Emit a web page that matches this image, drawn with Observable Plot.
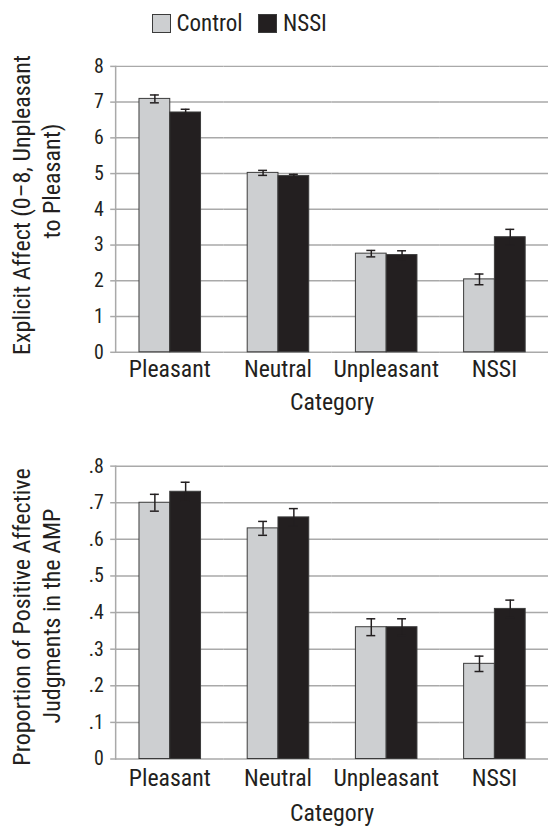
<!DOCTYPE html>
<html>
<head>
<meta charset="utf-8">
<script src="https://cdn.jsdelivr.net/npm/d3@7"></script>
<script src="https://cdn.jsdelivr.net/npm/@observablehq/plot@0.6"></script>
<style>
  html, body { margin: 0; padding: 0; background: #fff; overflow: hidden; }
  #page { position: relative; width: 548px; height: 827px; overflow: hidden;
          font-family: Roboto, sans-serif; font-stretch: 75%; color: #231f20; }
  #legend { position: relative; height: 50px; }
  .sw { position: absolute; width: 17px; height: 17px; top: 14px; border: 1px solid #3b3b3b; }
  .lt { position: absolute; top: 10px; font-size: 23px; line-height: normal; white-space: nowrap; }
  .yt { position: absolute; font-size: 24px; white-space: nowrap; line-height: normal;
        transform: translate(-50%, -50%) rotate(-90deg); }
  svg { display: block; font-stretch: 75%; }
  svg text { font-stretch: 75%; }
</style>
</head>
<body>
<div id="page">
  <div id="legend"></div>
  <div id="c1"></div>
  <div id="c2"></div>
</div>
<script>
const categories = ["Pleasant", "Neutral", "Unpleasant", "NSSI"];
const groups = ["Control", "NSSI"];
const groupColors = ["#cdcfd1", "#231f20"];

// Top panel: explicit affect (0–8)
const explicitControl = [7.09, 5.02, 2.76, 2.04];
const explicitControlErr = [0.11, 0.07, 0.09, 0.15];
const explicitNSSI = [6.71, 4.93, 2.72, 3.22];
const explicitNSSIErr = [0.09, 0.05, 0.12, 0.22];
const explicitTicks = [0, 1, 2, 3, 4, 5, 6, 7, 8];
const explicitTickLabels = ["0", "1", "2", "3", "4", "5", "6", "7", "8"];

// Bottom panel: proportion of positive AMP judgments
const ampControl = [0.70, 0.63, 0.36, 0.26];
const ampControlErr = [0.023, 0.019, 0.023, 0.021];
const ampNSSI = [0.73, 0.66, 0.36, 0.41];
const ampNSSIErr = [0.026, 0.024, 0.023, 0.024];
const ampTicks = [0, 0.1, 0.2, 0.3, 0.4, 0.5, 0.6, 0.7, 0.8];
const ampTickLabels = ["0", ".1", ".2", ".3", ".4", ".5", ".6", ".7", ".8"];

const FONT = 'Roboto, sans-serif';
const GRID = "#a9a9a9";
const INK = "#231f20";

function rowsOf(ctrl, ctrlErr, nssi, nssiErr) {
  const rows = [];
  categories.forEach((c, i) => {
    rows.push({category: c, group: "Control", value: ctrl[i], err: ctrlErr[i]});
    rows.push({category: c, group: "NSSI", value: nssi[i], err: nssiErr[i]});
  });
  return rows;
}

function chart({rows, ticks, labels, height, marginTop, marginBottom, labelOffset, tickPadding}) {
  const fmt = v => labels[ticks.findIndex(t => Math.abs(t - v) < 1e-9)];
  return Plot.plot({
    width: 552,
    height,
    marginLeft: 116,
    marginRight: 0,
    marginTop,
    marginBottom,
    style: {fontFamily: FONT, fontStretch: "75%", color: INK, background: "#fff", overflow: "visible"},
    fx: {domain: categories, padding: 0},
    x: {domain: groups, paddingInner: 0, paddingOuter: 0.75, axis: null},
    y: {domain: [ticks[0], ticks[ticks.length - 1]]},
    color: {domain: groups, range: groupColors},
    marks: [
      Plot.ruleY(ticks, {stroke: GRID, strokeWidth: 1.5}),
      Plot.frame({anchor: "left", facet: "super", stroke: GRID, strokeWidth: 1.5}),
      Plot.axisY({ticks, tickFormat: fmt, tickSize: 5, tickPadding: 7, fontSize: 20,
                  stroke: GRID, strokeWidth: 1.5, fill: INK, label: null}),
      Plot.axisFx({anchor: "bottom", tickSize: 0, tickPadding, fontSize: 24, fill: INK,
                   label: "Category", labelAnchor: "center", labelOffset}),
      Plot.barY(rows, {fx: "category", x: "group", y: "value", fill: "group",
                       stroke: "#3b3b3b", strokeWidth: 1}),
      Plot.ruleX(rows, {fx: "category", x: "group", y1: d => d.value - d.err, y2: d => d.value + d.err,
                        stroke: INK, strokeWidth: 1.5}),
      Plot.tickY(rows, {fx: "category", x: "group", y: d => d.value + d.err,
                        insetLeft: 11, insetRight: 11, stroke: INK, strokeWidth: 1.5}),
      Plot.tickY(rows, {fx: "category", x: "group", y: d => d.value - d.err,
                        insetLeft: 11, insetRight: 11, stroke: INK, strokeWidth: 1.5})
    ]
  });
}

// Legend
const legend = document.getElementById("legend");
const legendX = [{sw: 152, tx: 176.5}, {sw: 258, tx: 283}];
groups.forEach((g, i) => {
  const s = document.createElement("div");
  s.className = "sw";
  s.style.left = legendX[i].sw + "px";
  s.style.background = groupColors[i];
  legend.appendChild(s);
  const t = document.createElement("div");
  t.className = "lt";
  t.style.left = legendX[i].tx + "px";
  t.textContent = g;
  legend.appendChild(t);
});

document.getElementById("c1").appendChild(chart({
  rows: rowsOf(explicitControl, explicitControlErr, explicitNSSI, explicitNSSIErr),
  ticks: explicitTicks, labels: explicitTickLabels,
  height: 370, marginTop: 16, marginBottom: 66, labelOffset: 58, tickPadding: 8
}));
document.getElementById("c2").appendChild(chart({
  rows: rowsOf(ampControl, ampControlErr, ampNSSI, ampNSSIErr),
  ticks: ampTicks, labels: ampTickLabels,
  height: 407, marginTop: 49, marginBottom: 63, labelOffset: 62, tickPadding: 10
}));

// Y-axis titles (two lines each)
const page = document.getElementById("page");
const yTitles = [
  {text: "Explicit Affect (0–8, Unpleasant", x: 22, y: 205},
  {text: "to Pleasant)", x: 52, y: 181},
  {text: "Proportion of Positive Affective", x: 22, y: 617},
  {text: "Judgments in the AMP", x: 52, y: 616}
];
yTitles.forEach(d => {
  const e = document.createElement("div");
  e.className = "yt";
  e.style.left = d.x + "px";
  e.style.top = d.y + "px";
  e.textContent = d.text;
  page.appendChild(e);
});
</script>
</body>
</html>
